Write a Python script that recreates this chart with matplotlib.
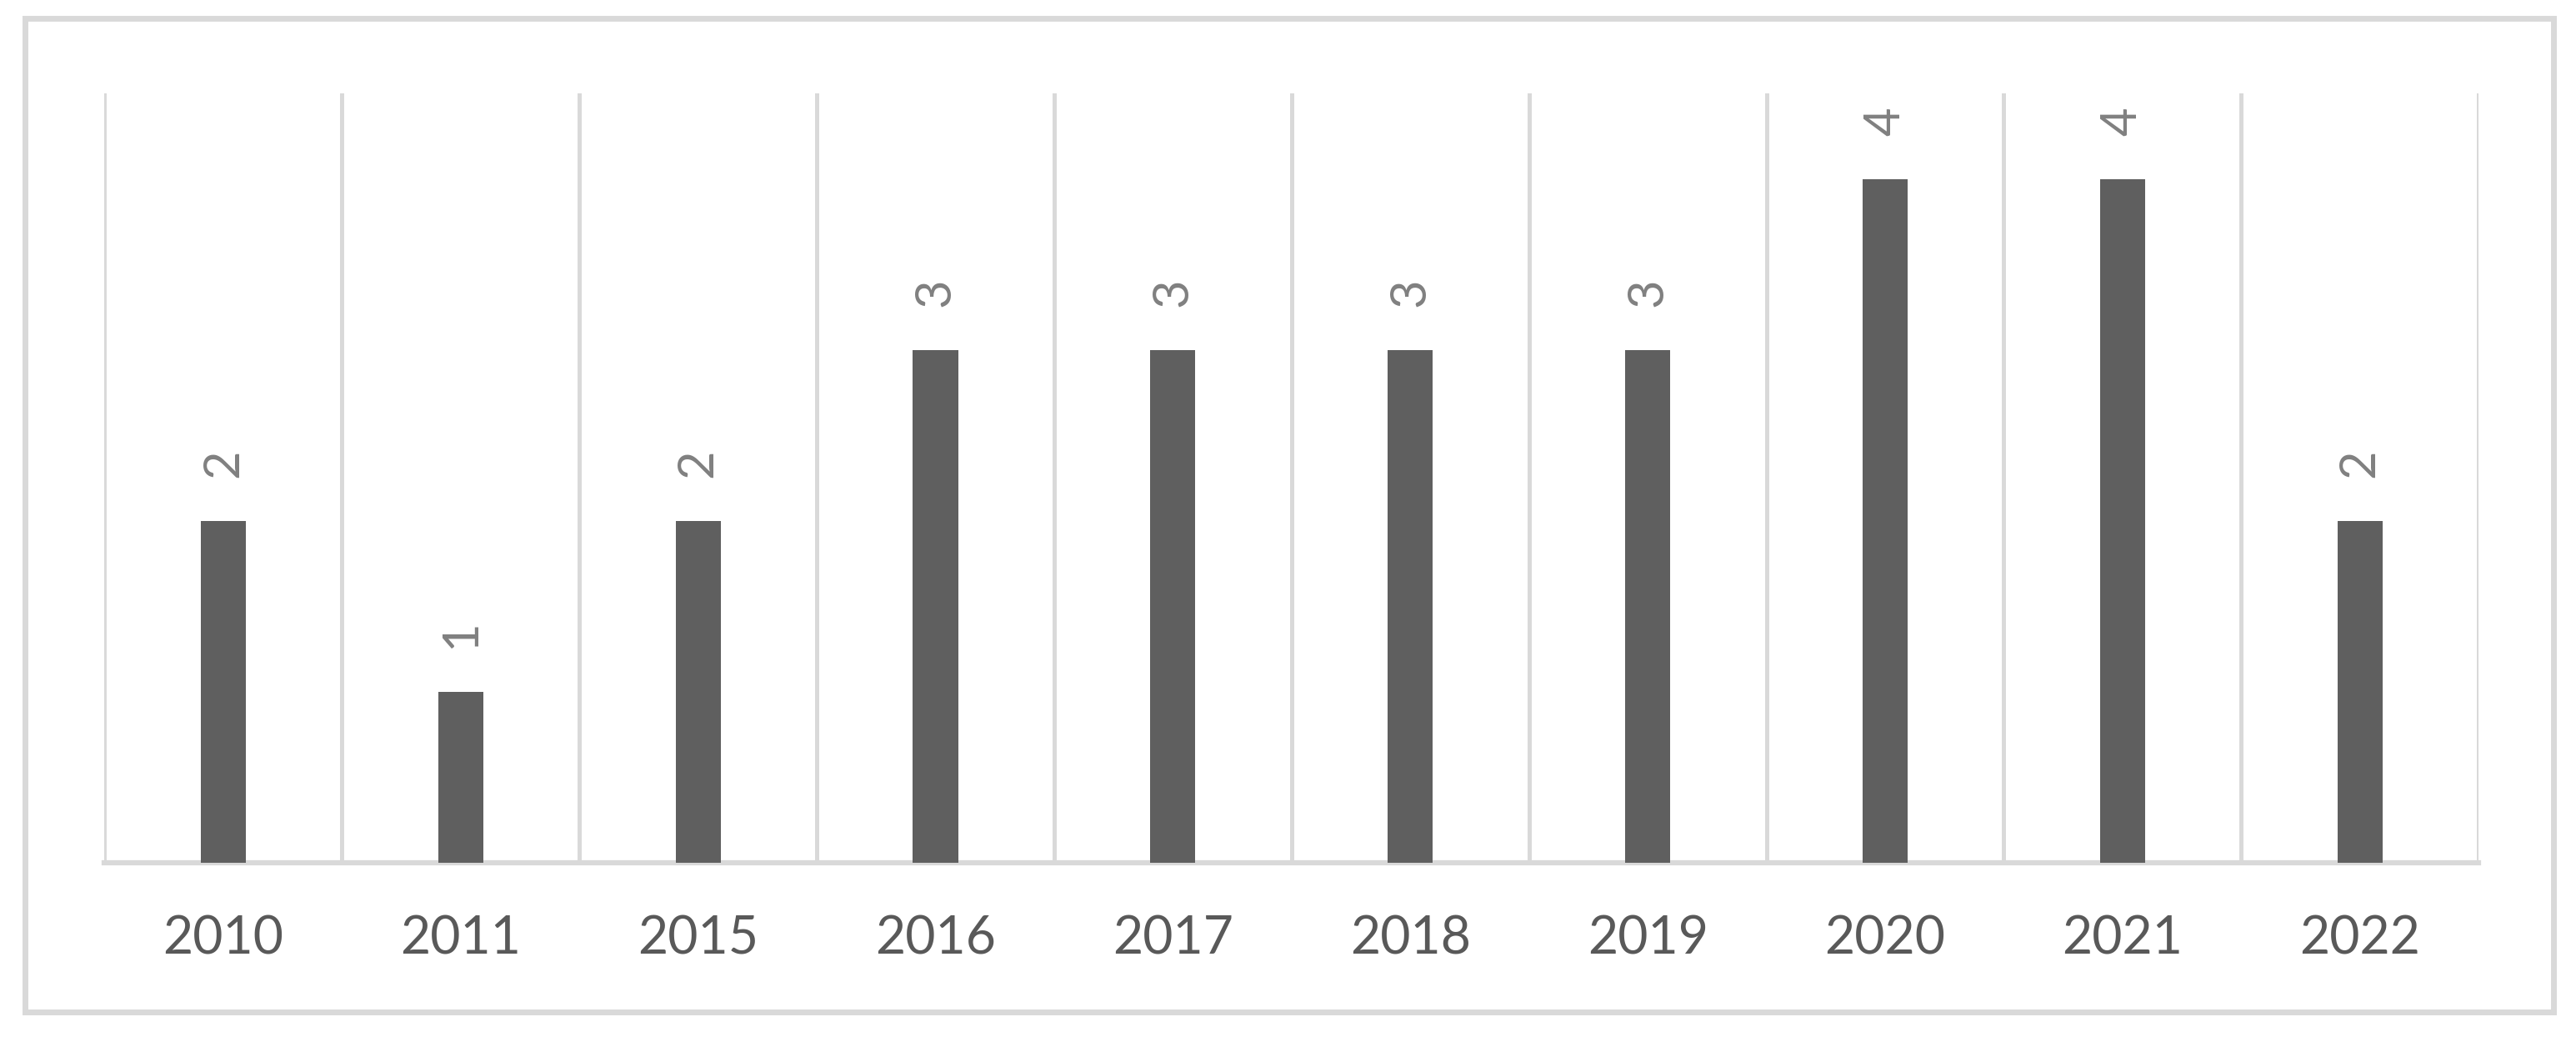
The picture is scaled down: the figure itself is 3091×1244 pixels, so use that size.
import matplotlib.pyplot as plt
import matplotlib.patches as patches
import numpy as np

# datos del grafico
anios = ['2010', '2011', '2015', '2016', '2017', '2018', '2019', '2020', '2021', '2022']
cantidad = [2, 1, 2, 3, 3, 3, 3, 4, 4, 2]

plt.rcParams['font.family'] = ['Lato', 'DejaVu Sans']

fig = plt.figure(figsize=(30.91, 12.44), dpi=100)
ax = fig.add_axes([0.0406, 0.168, 0.9216, 0.742])

x = np.arange(len(anios))
barras = ax.bar(x, cantidad, width=0.19, color='#5f5f5f', zorder=3)

# etiquetas de valor, giradas
for xi, v in zip(x, cantidad):
    ax.annotate(str(v), (xi, v), xytext=(0, 37), textcoords='offset points',
                rotation=90, ha='center', va='bottom', fontsize=43,
                color='#808080')

ax.set_xlim(-0.5, len(anios) - 0.5)
ax.set_ylim(0, 4.5)
ax.set_xticks(x)
ax.set_xticklabels(anios, fontsize=45, color='#595959')
ax.set_yticks([])

# lineas verticales entre categorias
ax.set_xticks(np.arange(-0.5, len(anios), 1), minor=True)
ax.grid(which='minor', axis='x', color='#d9d9d9', linewidth=3.6, zorder=0)
ax.tick_params(axis='x', which='both', length=0, pad=45)

for s in ['top', 'left', 'right']:
    ax.spines[s].set_visible(False)
ax.spines['bottom'].set_color('#d9d9d9')
ax.spines['bottom'].set_linewidth(4.5)

# marco exterior
W, H = 3091, 1244
marco = patches.Rectangle((30 / W, 1 - 1214 / H), (3064 - 30) / W, (1214 - 22) / H,
                          transform=fig.transFigure, fill=False,
                          edgecolor='#d9d9d9', linewidth=5)
fig.patches.append(marco)

fig.savefig('out.png', dpi=100, facecolor='white')
